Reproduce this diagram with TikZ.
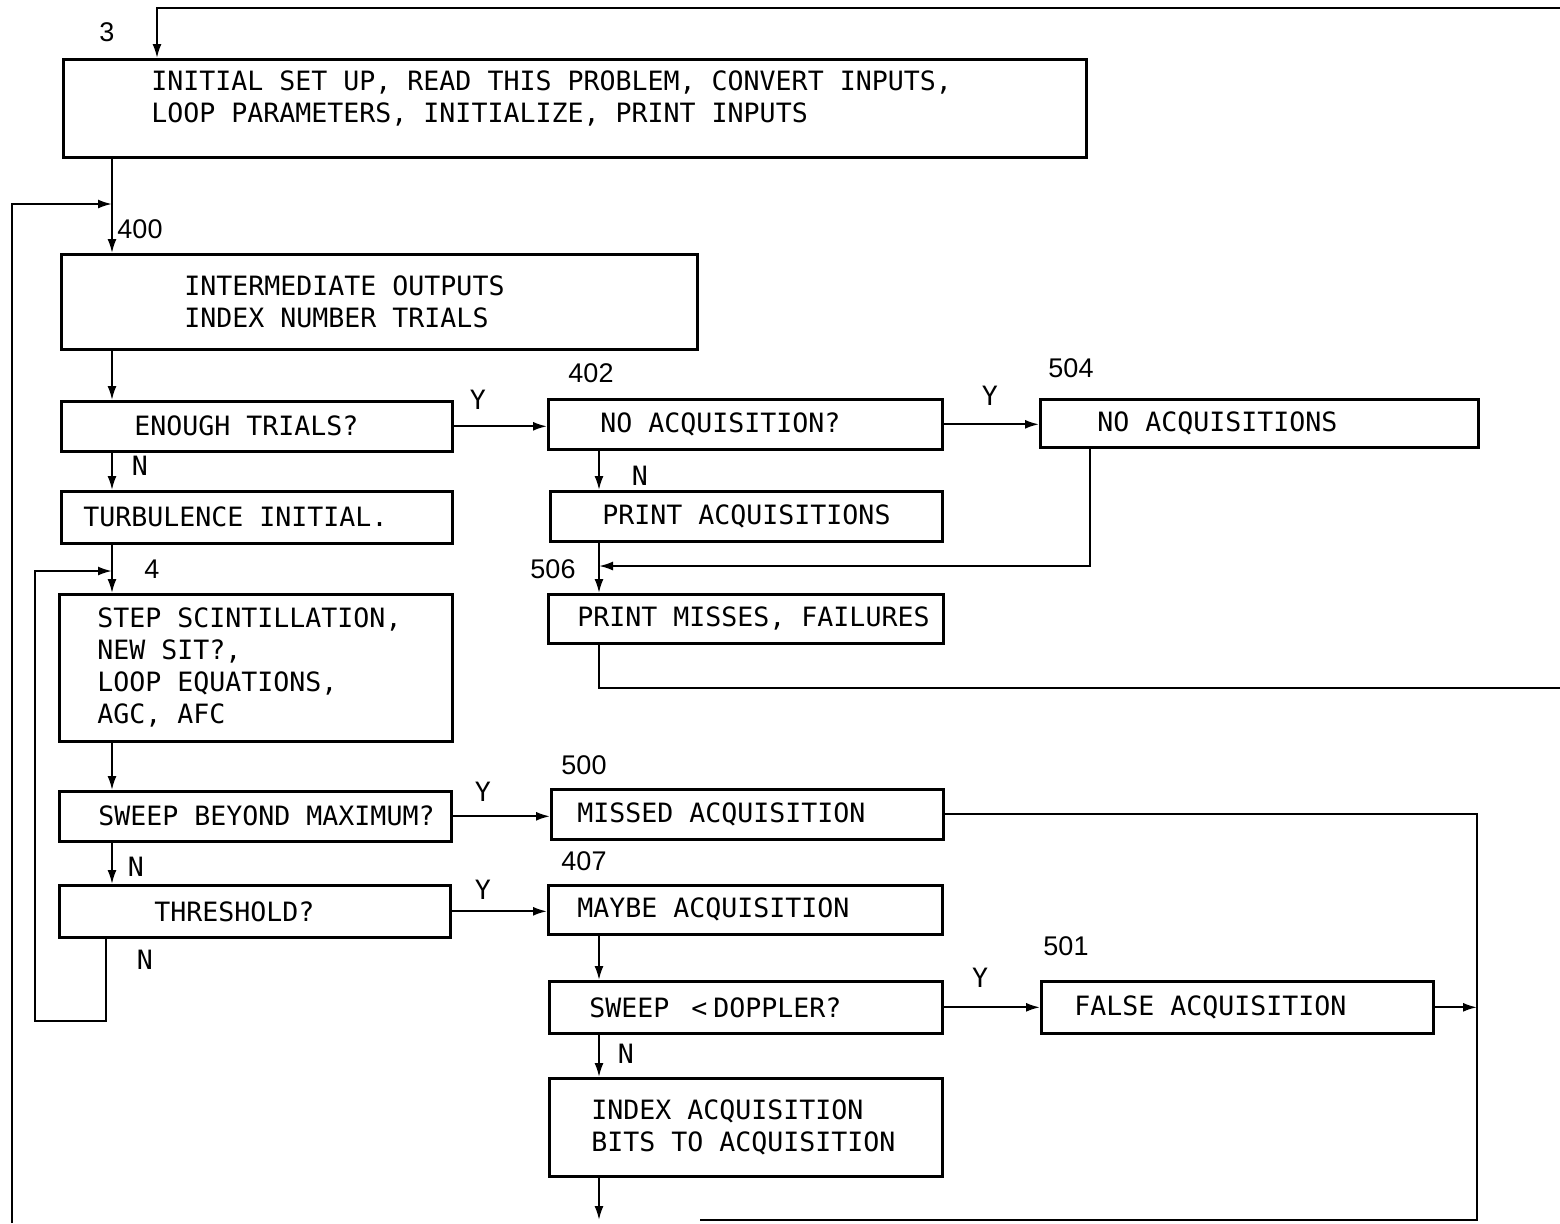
\documentclass[tikz,border=0pt]{standalone}
\usepackage{fontspec}
\usetikzlibrary{arrows.meta}
\newfontfamily\typer{DejaVu Sans Mono}
\newfontfamily\numfont{Liberation Sans}

\tikzset{every picture/.style={line width=1pt}}
\tikzset{
  blk/.style n args={3}{draw, line width=1.3pt, anchor=north west, inner sep=0pt,
    align=left, text width=#1, minimum height=#2,
    execute at begin node={\leftskip=#3\relax\spaceskip=8pt\relax},
    font=\typer\fontsize{13.3}{16}\selectfont},
  arr/.style={-{Latex[length=7pt,width=4.5pt]}},
  lbl/.style={inner sep=0pt, font=\typer\fontsize{13.3}{16}\selectfont},
  num/.style={inner sep=0pt, font=\numfont\fontsize{13.5}{16}\selectfont},
}

\begin{document}
\begin{tikzpicture}[x=0.5pt,y=0.5pt,yscale=-1,xscale=1]
\useasboundingbox (0,0) rectangle (1560,1223);

% columns and bends
\coordinate (colA) at (112,0);
\coordinate (colT) at (157,0);
\coordinate (colB) at (599,0);
\coordinate (colH) at (106,0);
\coordinate (colN) at (1090,0);
\coordinate (colR) at (1477,0);
\coordinate (topin) at (1560,8);
\coordinate (lbot) at (12,1223);
\coordinate (j400) at (112,204);
\coordinate (kbot) at (35,1021);
\coordinate (j4) at (112,571);
\coordinate (j506) at (599,566);
\coordinate (exitR) at (1560,688);
\coordinate (rbot) at (1477,1220);
\coordinate (bend) at (700,1220);
\coordinate (iout) at (599,1220);

% Blocks, left column
\node[blk={511.5pt}{49pt}{44pt}, text depth=28pt] (init) at (62,58)
  {INITIAL SET UP, READ THIS PROBLEM, CONVERT INPUTS,\\LOOP PARAMETERS, INITIALIZE, PRINT INPUTS};
\node[blk={318pt}{47.5pt}{61.5pt}] (inter) at (60,253) {INTERMEDIATE OUTPUTS\\INDEX NUMBER TRIALS};
\node[blk={195.5pt}{25pt}{36.5pt}] (enough) at (60,400) {ENOUGH TRIALS?};
\node[blk={195.5pt}{26pt}{11pt}] (turb) at (60,490) {TURBULENCE INITIAL.};
\node[blk={196.5pt}{73.5pt}{19pt}] (step) at (58,593)
  {STEP SCINTILLATION,\\NEW SIT?,\\LOOP EQUATIONS,\\AGC, AFC};
\node[blk={196pt}{25pt}{19.5pt}] (sweepmax) at (58,790) {SWEEP BEYOND MAXIMUM?};
\node[blk={195.5pt}{26pt}{47.5pt}] (thresh) at (58,884) {THRESHOLD?};

% Blocks, middle column
\node[blk={197pt}{25pt}{26pt}] (noacq) at (547,398) {NO ACQUISITION?};
\node[blk={196pt}{25pt}{26pt}] (pacq) at (549,490) {PRINT ACQUISITIONS};
\node[blk={197.5pt}{24.5pt}{14.5pt}] (pmiss) at (547,593) {PRINT MISSES, FAILURES};
\node[blk={196pt}{25pt}{13pt}] (missed) at (550,788) {MISSED ACQUISITION};
\node[blk={197pt}{24.5pt}{14.5pt}] (maybe) at (547,884) {MAYBE ACQUISITION};
\node[blk={196.5pt}{26pt}{20pt}] (sweepd) at (548,980) {SWEEP\hspace{11pt}<\hspace{3pt}DOPPLER?};
\node[blk={196.5pt}{49pt}{21pt}] (index) at (548,1077) {INDEX ACQUISITION\\BITS TO ACQUISITION};

% Blocks, right column
\node[blk={219pt}{24pt}{28.5pt}] (noacqs) at (1039,398) {NO ACQUISITIONS};
\node[blk={196pt}{26pt}{16.5pt}] (false) at (1040,980) {FALSE ACQUISITION};

% Text Node
\node[num] (l3) at (107,32) {3};
\node[num] (l400) at (140,229) {400};
\node[num] (l402) at (591,373) {402};
\node[num] (l504) at (1071,368) {504};
\node[num] (l506) at (553,569) {506};
\node[num] (l4) at (152,569) {4};
\node[num] (l500) at (584,765) {500};
\node[num] (l407) at (584,861) {407};
\node[num] (l501) at (1066,946) {501};

% Text Node
\node[lbl] (y1) at (478,400) {Y};
\node[lbl] (y2) at (990,396) {Y};
\node[lbl] (y3) at (483,792) {Y};
\node[lbl] (y4) at (483,890) {Y};
\node[lbl] (y5) at (980,978) {Y};
\node[lbl] (n1) at (140,466) {N};
\node[lbl] (n2) at (640,476) {N};
\node[lbl] (n3) at (136,867) {N};
\node[lbl] (n4) at (145,960) {N};
\node[lbl] (n5) at (626,1054) {N};

% Connectors, left column
\draw[arr] (topin) -| (init.north -| colT);
\draw[arr] (init.south -| colA) -- (inter.north -| colA);
\draw[arr] (lbot) |- (j400);
\draw[arr] (inter.south -| colA) -- (enough.north -| colA);
\draw[arr] (enough.south -| colA) -- (turb.north -| colA);
\draw[arr] (turb.south -| colA) -- (step.north -| colA);
\draw[arr] (thresh.south -| colH) |- (kbot) |- (j4);
\draw[arr] (step.south -| colA) -- (sweepmax.north -| colA);
\draw[arr] (sweepmax.south -| colA) -- (thresh.north -| colA);

% Connectors, Y branches
\draw[arr] (enough.east) -- (enough.east -| noacq.west);
\draw[arr] (noacq.east) -- (noacq.east -| noacqs.west);
\draw[arr] (sweepmax.east) -- (sweepmax.east -| missed.west);
\draw[arr] (thresh.east) -- (thresh.east -| maybe.west);
\draw[arr] (sweepd.east) -- (sweepd.east -| false.west);

% Connectors, middle column
\draw[arr] (noacq.south -| colB) -- (pacq.north -| colB);
\draw[arr] (pacq.south -| colB) -- (pmiss.north -| colB);
\draw[arr] (noacqs.south -| colN) |- (j506);
\draw (pmiss.south -| colB) |- (exitR);
\draw[arr] (maybe.south -| colB) -- (sweepd.north -| colB);
\draw[arr] (sweepd.south -| colB) -- (index.north -| colB);
\draw[arr] (index.south -| colB) -- (iout);

% Connectors, right side
\draw (missed.east) -| (rbot) -- (bend);
\draw[arr] (false.east) -- (false.east -| colR);

\end{tikzpicture}
\end{document}
